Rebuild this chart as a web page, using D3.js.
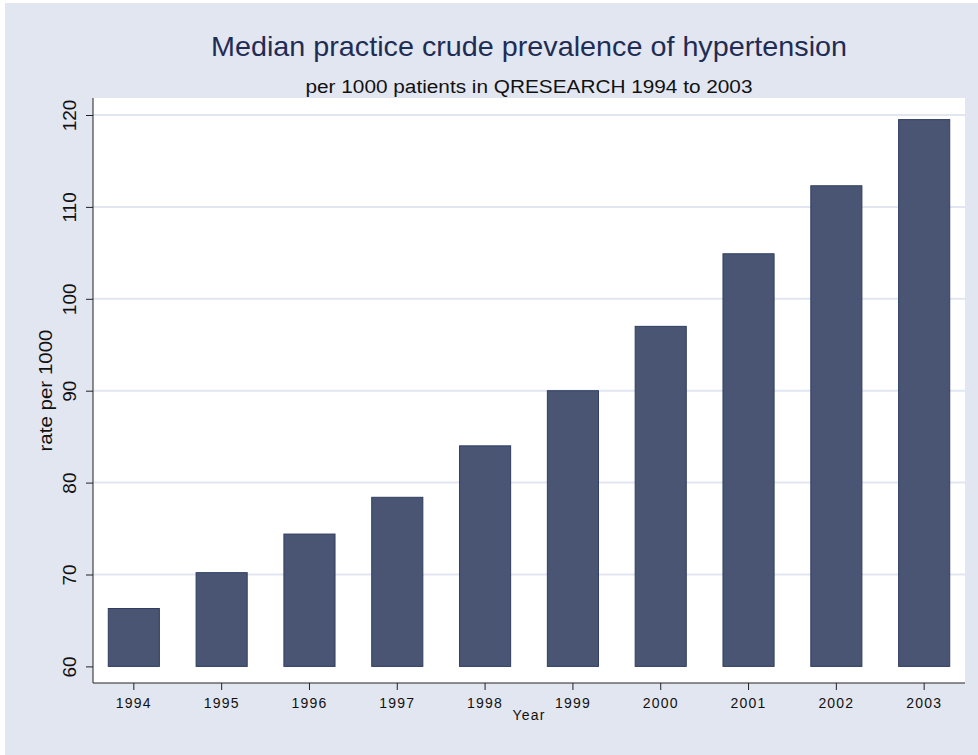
<!DOCTYPE html>
<html>
<head>
<meta charset="utf-8">
<script src="https://cdn.jsdelivr.net/npm/d3@7"></script>
<style>
  body { margin: 0; background: #fff; }
  text { font-family: "Liberation Sans", Arial, sans-serif; }
</style>
</head>
<body>
<div id="myChart"></div>
<script>
let svgW = 978;
let svgH = 755;

// data
const years = ["1994", "1995", "1996", "1997", "1998", "1999", "2000", "2001", "2002", "2003"];
const rates = [66.3, 70.2, 74.4, 78.4, 84.0, 90.0, 97.0, 104.9, 112.3, 119.5];
const yTicks = [60, 70, 80, 90, 100, 110, 120];

let svg = d3.select("#myChart").append("svg")
  .attr("width", svgW)
  .attr("height", svgH)
  .style("display", "block");

// outer region
svg.append("rect")
  .attr("x", 5).attr("y", 3)
  .attr("width", svgW - 5).attr("height", svgH - 3)
  .attr("fill", "#e2e6f0");

const plotL = 93, plotR = 965, plotT = 98, plotB = 683;

svg.append("rect")
  .attr("x", plotL).attr("y", plotT)
  .attr("width", plotR - plotL).attr("height", plotB - plotT)
  .attr("fill", "#fff");

let x = d3.scaleBand()
  .domain(years)
  .range([plotL, plotR])
  .paddingInner(0.418)
  .paddingOuter(0.174);

let y = d3.scaleLinear()
  .domain([60, 120])
  .range([666.4, 115]);

// gridlines
svg.selectAll(".grid")
  .data(yTicks.filter(d => d > 60))
  .enter()
  .append("line")
  .attr("x1", plotL).attr("x2", plotR)
  .attr("y1", d => y(d)).attr("y2", d => y(d))
  .style("stroke", "#e1e6f0")
  .style("stroke-width", 2);

// bars
svg.selectAll(".bar")
  .data(rates)
  .enter()
  .append("rect")
  .attr("x", (d, i) => x(years[i]))
  .attr("width", x.bandwidth())
  .attr("y", d => y(d))
  .attr("height", d => y(60) - y(d))
  .attr("fill", "#4a5573")
  .attr("stroke", "#2f3d62")
  .attr("stroke-width", 1);

// axes
let yAxis = svg.append("g")
  .attr("transform", `translate(${plotL},0)`)
  .call(d3.axisLeft(y).tickValues(yTicks).tickSize(7).tickPadding(0).tickSizeOuter(0));
yAxis.select(".domain").attr("d", `M0,${plotT}V${plotB}`).style("stroke", "#222");
yAxis.selectAll(".tick line").style("stroke", "#222");
yAxis.selectAll(".tick text")
  .attr("transform", "rotate(-90)")
  .attr("x", 0).attr("y", -17)
  .attr("dy", 0)
  .style("text-anchor", "middle")
  .style("font-size", "19px")
  .style("fill", "#111");

let xAxis = svg.append("g")
  .attr("transform", `translate(0,${plotB})`)
  .call(d3.axisBottom(x).tickSize(7).tickSizeOuter(0).tickPadding(8));
xAxis.select(".domain").attr("d", `M${plotL},0H${plotR}`).style("stroke", "#222");
xAxis.selectAll(".tick line").style("stroke", "#222");
xAxis.selectAll(".tick text")
  .style("font-size", "14px")
  .style("letter-spacing", "1.2px")
  .style("fill", "#111");

// titles
svg.append("text")
  .attr("x", (plotL + plotR) / 2).attr("y", 56)
  .attr("text-anchor", "middle")
  .attr("textLength", 636)
  .attr("lengthAdjust", "spacingAndGlyphs")
  .style("font-size", "28px")
  .style("fill", "#1f2d55")
  .text("Median practice crude prevalence of hypertension");

svg.append("text")
  .attr("x", (plotL + plotR) / 2).attr("y", 93)
  .attr("text-anchor", "middle")
  .attr("textLength", 447)
  .attr("lengthAdjust", "spacingAndGlyphs")
  .style("font-size", "18px")
  .style("fill", "#111")
  .text("per 1000 patients in QRESEARCH 1994 to 2003");

svg.append("text")
  .attr("x", (plotL + plotR) / 2).attr("y", 720)
  .attr("text-anchor", "middle")
  .style("font-size", "14px")
  .style("letter-spacing", "1.2px")
  .style("fill", "#111")
  .text("Year");

svg.append("text")
  .attr("transform", `translate(52,${(plotT + plotB) / 2}) rotate(-90)`)
  .attr("text-anchor", "middle")
  .attr("textLength", 122)
  .attr("lengthAdjust", "spacingAndGlyphs")
  .style("font-size", "18px")
  .style("fill", "#111")
  .text("rate per 1000");
</script>
</body>
</html>
